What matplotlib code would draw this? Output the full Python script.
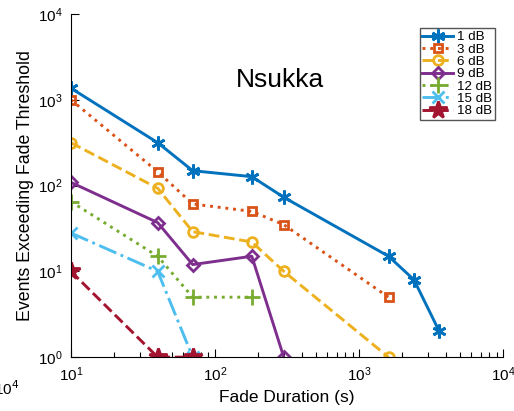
import matplotlib
matplotlib.use("Agg")
import matplotlib.pyplot as plt
from matplotlib.ticker import LogLocator, NullFormatter

plt.rcParams['font.family'] = ['Liberation Sans', 'DejaVu Sans']

labels = ['1 dB', '3 dB', '6 dB', '9 dB', '12 dB', '15 dB', '18 dB']
x_1 = [10, 40, 70, 180, 300, 1600, 2400, 3600]
y_1 = [1365, 316, 149, 127, 73, 15, 8, 2]
x_3 = [10, 40, 70, 180, 300, 1600]
y_3 = [1000, 145, 61, 50, 35, 5]
x_6 = [10, 40, 70, 180, 300, 1600]
y_6 = [316, 93, 29, 22, 10, 1]
x_9 = [10, 40, 70, 180, 300]
y_9 = [109, 37, 12, 15, 1]
x_12 = [10, 40, 70, 180]
y_12 = [65, 15, 5, 5]
x_15 = [10, 40, 70]
y_15 = [28, 10, 1]
x_18 = [10, 40, 70]
y_18 = [10, 1, 1]

xs = [x_1, x_3, x_6, x_9, x_12, x_15, x_18]
ys = [y_1, y_3, y_6, y_9, y_12, y_15, y_18]
colors = ['#0072BD', '#D95319', '#EDB120', '#7E2F8E', '#77AC30', '#4DBEEE', '#A2142F']
styles = ['-', ':', '--', '-', ':', '-.', '--']
markers = [(6, 2, 0), 's', 'o', 'D', '+', 'x', '*']
msizes = [10, 6, 7, 6, 11, 8, 13]
mfcs = ['none', 'none', 'none', 'none', 'none', 'none', '#A2142F']

fig = plt.figure(figsize=(5.14, 4.11), dpi=100)
ax = fig.add_axes([0.138, 0.131, 0.841, 0.835])

for x, y, c, ls, m, ms, mfc, lab in zip(xs, ys, colors, styles, markers, msizes, mfcs, labels):
    ax.plot(x, y, color=c, linestyle=ls, linewidth=2.1, marker=m, markersize=ms,
            markerfacecolor=mfc, markeredgecolor=c, markeredgewidth=2.0, label=lab)

ax.set_xscale('log')
ax.set_yscale('log')
ax.set_xlim(10, 1e4)
ax.set_ylim(1, 1e4)
ax.xaxis.set_minor_locator(LogLocator(base=10, subs=range(2, 10)))
ax.xaxis.set_minor_formatter(NullFormatter())
ax.yaxis.set_minor_locator(LogLocator(base=10, subs=[]))
ax.tick_params(axis='both', which='both', direction='in', labelsize=11, width=0.8)
ax.tick_params(axis='both', which='major', length=6, pad=6)
ax.tick_params(axis='x', which='minor', length=3.5)
ax.spines['top'].set_visible(False)
ax.spines['right'].set_visible(False)

ax.set_xlabel('Fade Duration (s)', fontsize=12.5, labelpad=4)
ax.set_ylabel('Events Exceeding Fade Threshold', fontsize=12.8, labelpad=3)
ax.text(0.484, 0.807, 'Nsukka', transform=ax.transAxes, fontsize=19, ha='center', va='center')

leg = ax.legend(loc='upper right', bbox_to_anchor=(0.99, 0.97), fontsize=9.6, handlelength=2.3,
                labelspacing=0.0, borderpad=0.2, handletextpad=0.3, fancybox=False,
                framealpha=1, edgecolor='#555555', borderaxespad=0.3)
leg.get_frame().set_linewidth(1.0)

fig.text(-0.012, 0.055, '10$^4$', fontsize=11, ha='left', va='center')

fig.savefig('out.png', dpi=100)
